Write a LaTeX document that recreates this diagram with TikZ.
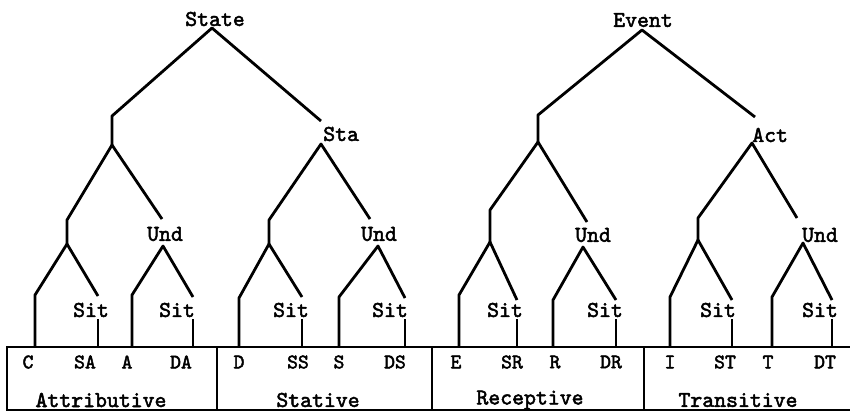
\documentclass[tikz,border=0pt]{standalone}
\usepackage{fontspec}
\newfontfamily\twfont{lmmono10-regular.otf}[AutoFakeBold=2.2]

\begin{document}
\begin{tikzpicture}[x=0.75pt,y=-0.75pt,
  lbl/.style={font=\fontsize{17}{20}\selectfont\twfont\bfseries,inner sep=0pt},
  leaf/.style={font=\fontsize{15.5}{18}\selectfont\twfont\bfseries,inner sep=0pt},
  branch/.style={line width=2.1pt,line join=round},
  frame/.style={line width=1.8pt}]

\useasboundingbox (0,0) rectangle (850,412);

% State tree
\node[lbl] (State) at (215,19) {State};
\coordinate (State-o) at (212,28);
\coordinate (s1-i) at (112,116);
\coordinate (s1-o) at (112,145);
\node[lbl,anchor=west] (Sta) at (323,134) {Sta};
\coordinate (Sta-i) at (321,121);
\coordinate (Sta-o) at (321,144);
\draw[branch] (s1-o) -- (s1-i) -- (State-o) -- (Sta-i);

\coordinate (s2-i) at (67,220);
\coordinate (s2-o) at (67,244);
\node[lbl] (Und1) at (165,234) {Und};
\coordinate (Und1-i) at (162,219);
\coordinate (Und1-o) at (163,246);
\draw[branch] (s2-o) -- (s2-i) -- (s1-o) -- (Und1-i);

\coordinate (s3-i) at (269,220);
\coordinate (s3-o) at (269,244);
\node[lbl] (Und2) at (379,234) {Und};
\coordinate (Und2-i) at (370,219);
\coordinate (Und2-o) at (378,246);
\draw[branch] (s3-o) -- (s3-i) -- (Sta-o) -- (Und2-i);

% Event tree
\node[lbl] (Event) at (643,20) {Event};
\coordinate (Event-o) at (642,30);
\coordinate (e1-i) at (538,115);
\coordinate (e1-o) at (538,142);
\node[lbl,anchor=west] (Act) at (752,135) {Act};
\coordinate (Act-i) at (755,117);
\coordinate (Act-o) at (752,143);
\draw[branch] (e1-o) -- (e1-i) -- (Event-o) -- (Act-i);

\coordinate (e2-i) at (490,210);
\coordinate (e2-o) at (490,242);
\node[lbl] (Und3) at (593,235) {Und};
\coordinate (Und3-i) at (587,222);
\coordinate (Und3-o) at (583,247);
\draw[branch] (e2-o) -- (e2-i) -- (e1-o) -- (Und3-i);

\coordinate (e3-i) at (698,218);
\coordinate (e3-o) at (698,240);
\node[lbl] (Und4) at (820,235) {Und};
\coordinate (Und4-i) at (797,218);
\coordinate (Und4-o) at (803,243);
\draw[branch] (e3-o) -- (e3-i) -- (Act-o) -- (Und4-i);

% lowest split: plain branch left, Sit branch right
\foreach \p/\xl/\yl/\xr/\yr/\xs [count=\i] in
  {s2/35/295/98/296/91, Und1/132/295/193/297/177,
   s3/239/298/302/297/291, Und2/339/297/405/298/390,
   e2/459/295/517/300/505, Und3/553/300/616/300/605,
   e3/670/297/732/300/718, Und4/772/297/832/300/820}{
  \coordinate (l\i-i) at (\xl,\yl);
  \coordinate (l\i-e) at (\xl,347);
  \coordinate (r\i-i) at (\xr,\yr);
  \node[lbl] (Sit\i) at (\xs,310) {Sit};
  \coordinate (r\i-o) at (\xr,319);
  \coordinate (r\i-e) at (\xr,347);
  \draw[branch] (l\i-e) -- (l\i-i) -- (\p-o) -- (r\i-i);
  \draw[branch] (r\i-o) -- (r\i-e);
}

% Frame with four sections
\draw[frame] (850,347) -- (7,347) -- (7,410) -- (850,410);
\foreach \x in {217,432,644}
  \draw[frame] (\x,347) -- (\x,410);

% Leaf labels
\foreach \t/\x in {C/28,SA/85,A/127,DA/181,D/239,SS/298,S/339,DS/395,
                   E/456,SR/512,R/555,DR/611,I/670,ST/725,T/768,DT/825}
  \node[leaf] (leaf-\t) at (\x,362) {\t};

% Section names
\foreach \t/\x in {Attributive/101,Stative/318,Receptive/530,Transitive/738}
  \node[lbl] (\t) at (\x,400) {\t};

\end{tikzpicture}
\end{document}
